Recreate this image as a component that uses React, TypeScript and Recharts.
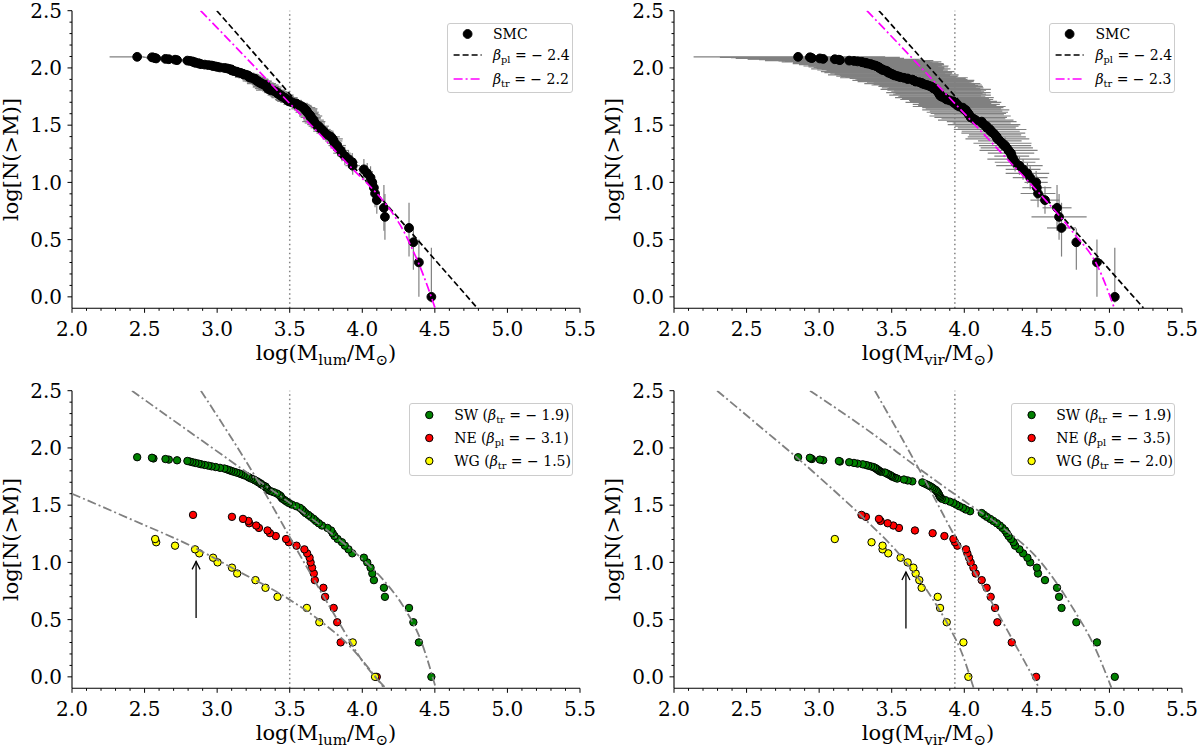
import React from "react";
import { ErrorBar, ReferenceDot, ReferenceLine, Scatter, ScatterChart, XAxis, YAxis } from "recharts";

const FONT = "'DejaVu Serif', serif";
const X_DOMAIN = [2.0, 5.5];
const Y_DOMAIN = [-0.1, 2.5];
const X_TICKS = [2.0, 2.1, 2.2, 2.3, 2.4, 2.5, 2.6, 2.7, 2.8, 2.9, 3.0, 3.1, 3.2, 3.3, 3.4, 3.5, 3.6, 3.7, 3.8, 3.9,
  4.0, 4.1, 4.2, 4.3, 4.4, 4.5, 4.6, 4.7, 4.8, 4.9, 5.0, 5.1, 5.2, 5.3, 5.4, 5.5];
const Y_TICKS = [0, 0.1, 0.2, 0.3, 0.4, 0.5, 0.6, 0.7, 0.8, 0.9, 1.0, 1.1, 1.2, 1.3, 1.4, 1.5, 1.6, 1.7, 1.8, 1.9,
  2.0, 2.1, 2.2, 2.3, 2.4, 2.5];

// log N(>M), rank 1 (most massive) first
const LOG_N = [
  0, 0.301, 0.477, 0.602, 0.699, 0.778, 0.845, 0.903, 0.954, 1.0,
  1.041, 1.079, 1.114, 1.146, 1.176, 1.204, 1.23, 1.255, 1.279, 1.301,
  1.322, 1.342, 1.362, 1.38, 1.398, 1.415, 1.431, 1.447, 1.462, 1.477,
  1.491, 1.505, 1.519, 1.531, 1.544, 1.556, 1.568, 1.58, 1.591, 1.602,
  1.613, 1.623, 1.633, 1.643, 1.653, 1.663, 1.672, 1.681, 1.69, 1.699,
  1.708, 1.716, 1.724, 1.732, 1.74, 1.748, 1.756, 1.763, 1.771, 1.778,
  1.785, 1.792, 1.799, 1.806, 1.813, 1.82, 1.826, 1.833, 1.839, 1.845,
  1.851, 1.857, 1.863, 1.869, 1.875, 1.881, 1.886, 1.892, 1.898, 1.903,
  1.908, 1.914, 1.919, 1.924, 1.929, 1.934, 1.94, 1.944, 1.949, 1.954,
  1.959, 1.964, 1.968, 1.973, 1.978, 1.982, 1.987, 1.991, 1.996, 2.0,
  2.004, 2.009, 2.013, 2.017, 2.021, 2.025, 2.029, 2.033, 2.037, 2.041,
  2.045, 2.049, 2.053, 2.057, 2.061, 2.064, 2.068, 2.072, 2.076, 2.079,
  2.083, 2.086, 2.09, 2.093, 2.097,
];

// SMC, log(M_lum), sorted high to low
const SMC_LUM = [
  4.476, 4.39, 4.352, 4.322, 4.156, 4.149, 4.1, 4.088, 4.08, 4.069,
  4.057, 4.034, 4.011, 3.934, 3.931, 3.905, 3.88, 3.86, 3.851, 3.83,
  3.827, 3.809, 3.803, 3.796, 3.785, 3.76, 3.744, 3.732, 3.722, 3.704,
  3.7, 3.68, 3.673, 3.666, 3.665, 3.654, 3.645, 3.644, 3.637, 3.628,
  3.62, 3.618, 3.609, 3.601, 3.596, 3.585, 3.57, 3.547, 3.545, 3.515,
  3.494, 3.494, 3.478, 3.475, 3.465, 3.45, 3.442, 3.437, 3.425, 3.416,
  3.412, 3.404, 3.39, 3.368, 3.364, 3.35, 3.347, 3.345, 3.338, 3.333,
  3.333, 3.318, 3.305, 3.299, 3.288, 3.285, 3.276, 3.269, 3.264, 3.262,
  3.253, 3.235, 3.222, 3.221, 3.216, 3.212, 3.2, 3.182, 3.178, 3.166,
  3.152, 3.138, 3.133, 3.115, 3.102, 3.102, 3.098, 3.083, 3.068, 3.05,
  3.02, 3.003, 2.99, 2.972, 2.962, 2.94, 2.915, 2.89, 2.877, 2.872,
  2.85, 2.848, 2.834, 2.83, 2.812, 2.795, 2.724, 2.71, 2.667, 2.644,
  2.58, 2.573, 2.561, 2.551, 2.449,
];

// SMC, log(M_vir), sorted high to low
const SMC_VIR = [
  5.037, 4.914, 4.772, 4.67, 4.653, 4.639, 4.556, 4.508, 4.5, 4.495,
  4.454, 4.435, 4.405, 4.38, 4.35, 4.339, 4.327, 4.322, 4.305, 4.293,
  4.281, 4.263, 4.245, 4.228, 4.224, 4.212, 4.2, 4.182, 4.178, 4.155,
  4.154, 4.136, 4.12, 4.12, 4.079, 4.063, 4.044, 4.04, 4.033, 4.028,
  4.021, 4.012, 4.01, 3.994, 3.99, 3.965, 3.952, 3.945, 3.936, 3.925,
  3.925, 3.9, 3.879, 3.87, 3.863, 3.845, 3.835, 3.833, 3.83, 3.826,
  3.822, 3.817, 3.816, 3.81, 3.803, 3.79, 3.782, 3.78, 3.768, 3.755,
  3.741, 3.725, 3.711, 3.706, 3.69, 3.665, 3.66, 3.649, 3.642, 3.61,
  3.61, 3.584, 3.561, 3.55, 3.538, 3.522, 3.511, 3.506, 3.497, 3.488,
  3.476, 3.475, 3.472, 3.465, 3.453, 3.437, 3.437, 3.425, 3.423, 3.415,
  3.412, 3.407, 3.4, 3.392, 3.385, 3.373, 3.361, 3.357, 3.338, 3.322,
  3.322, 3.3, 3.292, 3.265, 3.24, 3.207, 3.143, 3.136, 3.108, 3.028,
  3.005, 2.95, 2.942, 2.936, 2.855,
];

// regions, log(M_lum)
const SW_LUM = [
  4.476, 4.39, 4.352, 4.322, 4.156, 4.149, 4.08, 4.069, 4.057, 4.034,
  4.011, 3.931, 3.905, 3.88, 3.86, 3.83, 3.809, 3.796, 3.785, 3.76,
  3.722, 3.7, 3.68, 3.665, 3.645, 3.628, 3.609, 3.596, 3.585, 3.57,
  3.545, 3.515, 3.494, 3.478, 3.465, 3.45, 3.442, 3.437, 3.425, 3.412,
  3.39, 3.368, 3.35, 3.345, 3.338, 3.333, 3.318, 3.305, 3.299, 3.285,
  3.276, 3.262, 3.253, 3.235, 3.222, 3.212, 3.2, 3.182, 3.166, 3.152,
  3.133, 3.115, 3.098, 3.083, 3.068, 3.05, 3.02, 2.99, 2.962, 2.94,
  2.915, 2.89, 2.872, 2.85, 2.83, 2.812, 2.795, 2.724, 2.667, 2.644,
  2.561, 2.551, 2.449,
];
const NE_LUM = [4.1, 3.851, 3.827, 3.803, 3.744, 3.732, 3.673, 3.666, 3.654, 3.644, 3.637, 3.62, 3.601,
  3.547, 3.494, 3.475, 3.404, 3.364, 3.347, 3.288, 3.269, 3.221, 3.216, 3.178, 3.102, 2.834];
const WG_LUM = [4.088, 3.934, 3.704, 3.618, 3.416, 3.333, 3.264, 3.138, 3.102, 3.003, 2.972, 2.877, 2.848,
  2.71, 2.58, 2.573];

// regions, log(M_vir)
const SW_VIR = [
  5.037, 4.914, 4.772, 4.67, 4.653, 4.639, 4.556, 4.508, 4.5, 4.454,
  4.435, 4.405, 4.38, 4.35, 4.339, 4.322, 4.305, 4.293, 4.281, 4.263,
  4.245, 4.224, 4.2, 4.178, 4.155, 4.136, 4.12, 4.04, 4.01, 3.99,
  3.965, 3.945, 3.925, 3.9, 3.87, 3.845, 3.835, 3.83, 3.826, 3.822,
  3.816, 3.81, 3.803, 3.79, 3.78, 3.768, 3.755, 3.741, 3.725, 3.711,
  3.642, 3.61, 3.584, 3.538, 3.522, 3.506, 3.497, 3.488, 3.475, 3.465,
  3.453, 3.425, 3.415, 3.407, 3.4, 3.392, 3.385, 3.373, 3.357, 3.338,
  3.322, 3.3, 3.265, 3.24, 3.207, 3.143, 3.136, 3.028, 3.005, 2.95,
  2.942, 2.936, 2.855,
];
const NE_VIR = [4.495, 4.327, 4.228, 4.212, 4.182, 4.154, 4.12, 4.079, 4.063, 4.044, 4.033, 4.021, 4.012,
  3.952, 3.936, 3.925, 3.863, 3.782, 3.66, 3.55, 3.511, 3.472, 3.423, 3.412, 3.322, 3.292];
const WG_VIR = [4.028, 3.994, 3.879, 3.833, 3.817, 3.706, 3.69, 3.665, 3.649, 3.61, 3.561, 3.476, 3.437,
  3.437, 3.361, 3.108];

type Err = number | number[];

// error bars for the SMC panels (by rank)
const ERR_LOGN: Err[] = [
  [0.05, 0.43], [0.3, 0.2], [0.24, 0.12], [0.25, 0.22], 0.2, 0.2, 0.12, 0.12, 0.1, 0.1,
  0.1, 0.09, 0.09, 0.08, 0.08, 0.08, 0.08, 0.07, 0.07, 0.07,
  0.07, 0.06, 0.06, 0.06, 0.06, 0.06, 0.05, 0.05, 0.05, 0.05,
  0.05, 0.05, 0.05, 0.04, 0.04, 0.04, 0.04, 0.04, 0.04, 0.04,
  0.04, 0.04, 0.04, 0.04, 0.03, 0.03, 0.03, 0.03, 0.03, 0.03,
  0.03, 0.03, 0.03, 0.03, 0.03, 0.03, 0.03, 0.03, 0.03, 0.03,
];
const ERR_LUM: Err[] = [
  0.02, 0.02, 0.03, 0.03, 0.02, 0.03, 0.03, 0.02, 0.03, 0.03,
  0.03, 0.04, 0.04, 0.05, 0.04, 0.05, 0.05, 0.06, 0.05, 0.05,
  0.06, 0.05, 0.06, 0.07, 0.06, 0.05, 0.06, 0.07, 0.06, 0.06,
  0.07, 0.06, 0.07, 0.08, 0.07, 0.06, 0.07, 0.08, 0.07, 0.07,
  0.08, 0.07, 0.08, 0.09, 0.08, 0.07, 0.08, 0.09, 0.08, 0.08,
  0.08, 0.09, 0.08, 0.07, 0.09, 0.08, 0.08, 0.09, 0.07, 0.08,
  0.09, 0.08, 0.08, 0.1, 0.08, 0.09, 0.08, 0.1, 0.09, 0.08,
  0.09, 0.08, 0.1, 0.09, 0.08, 0.09, 0.1, 0.08, 0.09, 0.09,
  0.08, 0.09, 0.1, 0.08, 0.09, 0.08, 0.09, 0.1, 0.08, 0.09,
  0.08, 0.09, 0.08, 0.09, 0.08, 0.07, 0.08, 0.09, 0.07, 0.08,
  0.07, 0.08, 0.07, 0.06, 0.07, 0.06, 0.07, 0.06, 0.06, 0.07,
  0.06, 0.06, 0.07, 0.05, 0.06, 0.06, 0.05, 0.06, 0.05, 0.05,
  0.05, 0.06, 0.05, 0.06, [0.19, 0.05],
];
const ERR_VIR: Err[] = [
  0.02, 0.02, 0.03, 0.1, 0.19, 0.1, 0.1, 0.12, 0.1, 0.08,
  0.12, 0.15, 0.12, 0.16, 0.14, 0.18, 0.12, 0.16, 0.2, 0.18,
  0.18, 0.2, 0.15, 0.22, 0.2, 0.18, 0.22, 0.2, 0.25, 0.2,
  0.22, 0.25, 0.2, 0.24, 0.26, 0.22, 0.25, 0.28, 0.24, 0.26,
  0.28, 0.25, 0.3, 0.26, 0.28, 0.32, 0.27, 0.3, 0.25, 0.33,
  0.3, 0.28, 0.32, 0.3, 0.34, 0.3, 0.28, 0.35, 0.32, 0.3,
  0.36, 0.32, 0.3, 0.34, 0.38, 0.32, 0.35, 0.3, 0.36, 0.34,
  0.38, 0.35, 0.4, 0.33, 0.36, 0.4, 0.35, 0.42, 0.38, 0.36,
  0.4, 0.44, 0.38, 0.4, 0.42, 0.38, 0.45, 0.4, 0.42, 0.38,
  0.44, 0.4, 0.46, 0.42, 0.4, 0.45, 0.42, 0.48, 0.44, 0.4,
  0.45, 0.48, 0.42, 0.5, 0.46, 0.44, 0.5, 0.47, 0.52, 0.45,
  0.5, 0.48, 0.55, 0.5, 0.52, 0.58, 0.5, 0.55, 0.6, 0.52,
  0.58, 0.5, 0.55, 0.62, [0.72, 0.6],
];

// fitted curves as [log M, log N]
const LUM_PL = [[2.998, 2.5], [4.791, -0.096]];
const LUM_TR = [[2.886, 2.5], [3.1, 2.22], [3.3, 1.955], [3.5, 1.69], [3.7, 1.43], [3.9, 1.16], [4.05, 0.97],
  [4.138, 0.849], [4.22, 0.71], [4.292, 0.558], [4.34, 0.43], [4.387, 0.297], [4.45, 0.09], [4.501, -0.096]];
const VIR_PL = [[3.412, 2.5], [5.234, -0.096]];
const VIR_TR = [[3.329, 2.5], [3.566, 2.186], [3.804, 1.866], [4.041, 1.547], [4.278, 1.227], [4.515, 0.907],
  [4.753, 0.558], [4.919, 0.267], [5.033, -0.096]];
const SW_LUM_FIT = [[2.413, 2.5], [2.6, 2.33], [2.9, 2.06], [3.2, 1.79], [3.5, 1.52], [3.8, 1.24], [4.0, 1.03],
  [4.15, 0.84], [4.3, 0.58], [4.4, 0.33], [4.506, -0.096]];
const NE_LUM_FIT = [[2.888, 2.5], [3.3, 1.67], [3.563, 1.08], [3.828, 0.5], [4.011, 0.12], [4.16, -0.096]];
const WG_LUM_FIT = [[2.0, 1.6], [2.4, 1.38], [2.85, 1.125], [3.12, 0.94], [3.48, 0.69], [3.74, 0.46], [3.92, 0.26],
  [4.06, 0.05], [4.149, -0.096]];
const SW_VIR_FIT = [[2.937, 2.5], [3.329, 2.16], [3.709, 1.8], [4.041, 1.5], [4.278, 1.29], [4.515, 1.02],
  [4.753, 0.59], [4.895, 0.27], [5.014, -0.096]];
const NE_VIR_FIT = [[3.384, 2.5], [3.72, 1.74], [3.925, 1.25], [4.212, 0.6], [4.515, -0.096]];
const WG_VIR_FIT = [[2.297, 2.5], [2.617, 2.16], [2.861, 1.9], [3.092, 1.64], [3.305, 1.39], [3.566, 1.05],
  [3.756, 0.73], [3.92, 0.38], [3.97, 0.25], [4.064, -0.096]];

// completeness limits and the arrows
const LUM_LIMIT = 3.5;
const VIR_LIMIT = 3.935;
const LUM_ARROW = { x: 2.855, from: 0.515, to: 1.009 };
const VIR_ARROW = { x: 3.598, from: 0.422, to: 0.916 };

const cumulative = (mass: number[], ex: Err[] = [], ey: Err[] = []) =>
  mass.map((x, i) => ({ x, y: LOG_N[i], ex: ex[i] ?? 0, ey: ey[i] ?? 0 }));
const curve = (pts: number[][]) => pts.map(([x, y]) => ({ x, y }));

const isMajor = (v: number) => Math.round(v * 10) % 5 === 0;

function XTick(props: any) {
  const { x, y, payload } = props;
  const v = payload.value;
  const major = isMajor(v);
  return (
    <g>
      <line x1={x} x2={x} y1={y} y2={y + (major ? 4.5 : 2.5)} stroke="#000" strokeWidth={1} />
      {major && (
        <text x={x} y={y + 27.5} textAnchor="middle" fontSize={20} fontFamily={FONT} fill="#000">
          {v.toFixed(1)}
        </text>
      )}
    </g>
  );
}

function YTick(props: any) {
  const { x, y, payload } = props;
  const v = payload.value;
  const major = isMajor(v);
  return (
    <g>
      <line x1={x - (major ? 4.5 : 2.5)} x2={x} y1={y} y2={y} stroke="#000" strokeWidth={1} />
      {major && (
        <text x={x - 10} y={y} dy="0.36em" textAnchor="end" fontSize={20} fontFamily={FONT} fill="#000">
          {v.toFixed(1)}
        </text>
      )}
    </g>
  );
}

function XLabel({ viewBox, sub }: any) {
  const { x, y, width } = viewBox;
  return (
    <text x={x + width / 2} y={y + 52} textAnchor="middle" fontSize={21} fontFamily={FONT} fill="#000">
      log(M<tspan fontSize={15} dy={5}>{sub}</tspan>
      <tspan dy={-5}>/M</tspan>
      <tspan fontSize={15} dy={5}>⊙</tspan>
      <tspan dy={-5}>)</tspan>
    </text>
  );
}

function YLabel({ viewBox }: any) {
  const { x, y, height } = viewBox;
  const cx = x + 18;
  const cy = y + height / 2;
  return (
    <text x={cx} y={cy} transform={`rotate(-90 ${cx} ${cy})`} textAnchor="middle" fontSize={21} fontFamily={FONT} fill="#000">
      log[N(&gt;M)]
    </text>
  );
}

const dot = (r: number, fill: string) => (p: any) =>
  <circle cx={p.cx} cy={p.cy} r={r} fill={fill} stroke="#000" strokeWidth={1} />;
const noDot = () => <g />;
const arrowHead = (p: any) => (
  <path d={`M${p.cx - 4},${p.cy + 8} L${p.cx},${p.cy} L${p.cx + 4},${p.cy + 8}`} fill="none" stroke="#000" strokeWidth={1.3} />
);

const GREY = "#808080";
const DASH = "6 3";
const DASHDOT = "9 3 2 3";

function Panel({ left, top, width, height, xh, sub, limit, children }: any) {
  return (
    <div style={{ position: "absolute", left, top }}>
      <ScatterChart width={width} height={height} margin={{ top: 10.7, right: width - 72 - 508, left: 0, bottom: 0 }}>
        <XAxis type="number" dataKey="x" domain={X_DOMAIN} ticks={X_TICKS} interval={0} allowDataOverflow
          height={xh} tickSize={0} tickMargin={0} tickLine={false} tick={XTick}
          axisLine={{ stroke: "#000", strokeWidth: 1.1 }} label={(p: any) => <XLabel {...p} sub={sub} />} />
        <YAxis type="number" dataKey="y" domain={Y_DOMAIN} ticks={Y_TICKS} interval={0} allowDataOverflow
          width={72} tickSize={0} tickMargin={0} tickLine={false} tick={YTick}
          axisLine={{ stroke: "#000", strokeWidth: 1.1 }} label={(p: any) => <YLabel {...p} />} />
        <XAxis xAxisId="top" orientation="top" type="number" domain={X_DOMAIN} height={0} tick={false}
          tickLine={false} axisLine={{ stroke: "#000", strokeWidth: 1.1 }} />
        <YAxis yAxisId="right" orientation="right" type="number" domain={Y_DOMAIN} width={0} tick={false}
          tickLine={false} axisLine={{ stroke: "#000", strokeWidth: 1.1 }} />
        <ReferenceLine x={limit} stroke={GREY} strokeWidth={1.5} strokeDasharray="1.5 3" />
        {children}
      </ScatterChart>
    </div>
  );
}

function KeyBox({ left, top, width, height, markX, textX, rows }: any) {
  return (
    <div style={{
      position: "absolute", left, top, width, height, boxSizing: "border-box", border: "1px solid #cccccc",
      borderRadius: 3, background: "rgba(255,255,255,0.8)", fontFamily: FONT, fontSize: 14, color: "#000",
    }}>
      {rows.map((r: any, i: number) => (
        <div key={i} style={{ position: "absolute", left: 0, top: r.y - 11, height: 20, width: "100%" }}>
          <svg width={40} height={20} style={{ position: "absolute", left: 0, top: 0 }}>
            {r.kind === "dot"
              ? <circle cx={markX} cy={10} r={r.r} fill={r.color} stroke="#000" strokeWidth={1} />
              : <line x1={markX - 14} x2={markX + 14} y1={10} y2={10} stroke={r.color} strokeWidth={1.6} strokeDasharray={r.dash} />}
          </svg>
          <span style={{ position: "absolute", left: textX, top: 0, lineHeight: "20px", whiteSpace: "nowrap" }}>{r.text}</span>
        </div>
      ))}
    </div>
  );
}

const Beta = ({ sub }: { sub: string }) => (
  <>
    <i>β</i>
    <span style={{ fontSize: "0.7em", position: "relative", top: "0.3em" }}>{sub}</span>
  </>
);

export default function App() {
  const smcLum = cumulative(SMC_LUM, ERR_LUM, ERR_LOGN);
  const smcVir = cumulative(SMC_VIR, ERR_VIR, ERR_LOGN);
  const grey = { stroke: GREY, strokeWidth: 1.8, strokeDasharray: DASHDOT };

  return (
    <div style={{ position: "absolute", left: 0, top: 0, width: 1200, height: 748, overflow: "hidden", background: "#fff" }}>
      <Panel left={0} top={0} width={600} height={374} xh={65.7} sub="lum" limit={LUM_LIMIT}>
        <Scatter data={smcLum} shape={dot(4.4, "#000")} isAnimationActive={false}>
          <ErrorBar dataKey="ey" direction="y" width={0} stroke={GREY} strokeWidth={1.2} isAnimationActive={false} />
          <ErrorBar dataKey="ex" direction="x" width={0} stroke={GREY} strokeWidth={1.2} isAnimationActive={false} />
        </Scatter>
        <Scatter data={curve(LUM_PL)} shape={noDot} line={{ stroke: "#000", strokeWidth: 1.7, strokeDasharray: DASH }} isAnimationActive={false} />
        <Scatter data={curve(LUM_TR)} shape={noDot} lineJointType="monotoneX" line={{ stroke: "#ff00ff", strokeWidth: 1.7, strokeDasharray: DASHDOT }} isAnimationActive={false} />
      </Panel>

      <Panel left={602} top={0} width={598} height={374} xh={65.7} sub="vir" limit={VIR_LIMIT}>
        <Scatter data={smcVir} shape={dot(4.4, "#000")} isAnimationActive={false}>
          <ErrorBar dataKey="ey" direction="y" width={0} stroke={GREY} strokeWidth={1.2} isAnimationActive={false} />
          <ErrorBar dataKey="ex" direction="x" width={0} stroke={GREY} strokeWidth={1.2} isAnimationActive={false} />
        </Scatter>
        <Scatter data={curve(VIR_PL)} shape={noDot} line={{ stroke: "#000", strokeWidth: 1.7, strokeDasharray: DASH }} isAnimationActive={false} />
        <Scatter data={curve(VIR_TR)} shape={noDot} lineJointType="monotoneX" line={{ stroke: "#ff00ff", strokeWidth: 1.7, strokeDasharray: DASHDOT }} isAnimationActive={false} />
      </Panel>

      <Panel left={0} top={380} width={600} height={368} xh={59.7} sub="lum" limit={LUM_LIMIT}>
        <Scatter data={cumulative(SW_LUM)} shape={dot(3.7, "#008000")} isAnimationActive={false} />
        <Scatter data={cumulative(NE_LUM)} shape={dot(3.7, "#ff0000")} isAnimationActive={false} />
        <Scatter data={cumulative(WG_LUM)} shape={dot(3.7, "#ffff00")} isAnimationActive={false} />
        <Scatter data={curve(SW_LUM_FIT)} shape={noDot} lineJointType="monotoneX" line={grey} isAnimationActive={false} />
        <Scatter data={curve(NE_LUM_FIT)} shape={noDot} lineJointType="monotoneX" line={grey} isAnimationActive={false} />
        <Scatter data={curve(WG_LUM_FIT)} shape={noDot} lineJointType="monotoneX" line={grey} isAnimationActive={false} />
        <ReferenceLine segment={[{ x: LUM_ARROW.x, y: LUM_ARROW.from }, { x: LUM_ARROW.x, y: LUM_ARROW.to }]} stroke="#000" strokeWidth={1.3} />
        <ReferenceDot x={LUM_ARROW.x} y={LUM_ARROW.to} r={0} shape={arrowHead} />
      </Panel>

      <Panel left={602} top={380} width={598} height={368} xh={59.7} sub="vir" limit={VIR_LIMIT}>
        <Scatter data={cumulative(SW_VIR)} shape={dot(3.7, "#008000")} isAnimationActive={false} />
        <Scatter data={cumulative(NE_VIR)} shape={dot(3.7, "#ff0000")} isAnimationActive={false} />
        <Scatter data={cumulative(WG_VIR)} shape={dot(3.7, "#ffff00")} isAnimationActive={false} />
        <Scatter data={curve(SW_VIR_FIT)} shape={noDot} lineJointType="monotoneX" line={grey} isAnimationActive={false} />
        <Scatter data={curve(NE_VIR_FIT)} shape={noDot} lineJointType="monotoneX" line={grey} isAnimationActive={false} />
        <Scatter data={curve(WG_VIR_FIT)} shape={noDot} lineJointType="monotoneX" line={grey} isAnimationActive={false} />
        <ReferenceLine segment={[{ x: VIR_ARROW.x, y: VIR_ARROW.from }, { x: VIR_ARROW.x, y: VIR_ARROW.to }]} stroke="#000" strokeWidth={1.3} />
        <ReferenceDot x={VIR_ARROW.x} y={VIR_ARROW.to} r={0} shape={arrowHead} />
      </Panel>

      <KeyBox left={447} top={23} width={126} height={70} markX={19.6} textX={45} rows={[
        { y: 11, kind: "dot", r: 4.4, color: "#000", text: "SMC" },
        { y: 31.7, kind: "line", color: "#000", dash: DASH, text: <><Beta sub="pl" /> = − 2.4</> },
        { y: 56, kind: "line", color: "#ff00ff", dash: DASHDOT, text: <><Beta sub="tr" /> = − 2.2</> },
      ]} />
      <KeyBox left={1049} top={23} width={126} height={70} markX={19.6} textX={45.5} rows={[
        { y: 11, kind: "dot", r: 4.4, color: "#000", text: "SMC" },
        { y: 31.7, kind: "line", color: "#000", dash: DASH, text: <><Beta sub="pl" /> = − 2.4</> },
        { y: 56, kind: "line", color: "#ff00ff", dash: DASHDOT, text: <><Beta sub="tr" /> = − 2.3</> },
      ]} />
      <KeyBox left={408.5} top={403.3} width={164} height={72.4} markX={19.3} textX={44.7} rows={[
        { y: 11.7, kind: "dot", r: 3.7, color: "#008000", text: <>SW (<Beta sub="tr" /> = − 1.9)</> },
        { y: 34.4, kind: "dot", r: 3.7, color: "#ff0000", text: <>NE (<Beta sub="pl" /> = − 3.1)</> },
        { y: 57.7, kind: "dot", r: 3.7, color: "#ffff00", text: <>WG (<Beta sub="tr" /> = − 1.5)</> },
      ]} />
      <KeyBox left={1010.6} top={403.3} width={164} height={72.4} markX={19.6} textX={44.7} rows={[
        { y: 11.7, kind: "dot", r: 3.7, color: "#008000", text: <>SW (<Beta sub="tr" /> = − 1.9)</> },
        { y: 34.4, kind: "dot", r: 3.7, color: "#ff0000", text: <>NE (<Beta sub="pl" /> = − 3.5)</> },
        { y: 57.7, kind: "dot", r: 3.7, color: "#ffff00", text: <>WG (<Beta sub="tr" /> = − 2.0)</> },
      ]} />
    </div>
  );
}
